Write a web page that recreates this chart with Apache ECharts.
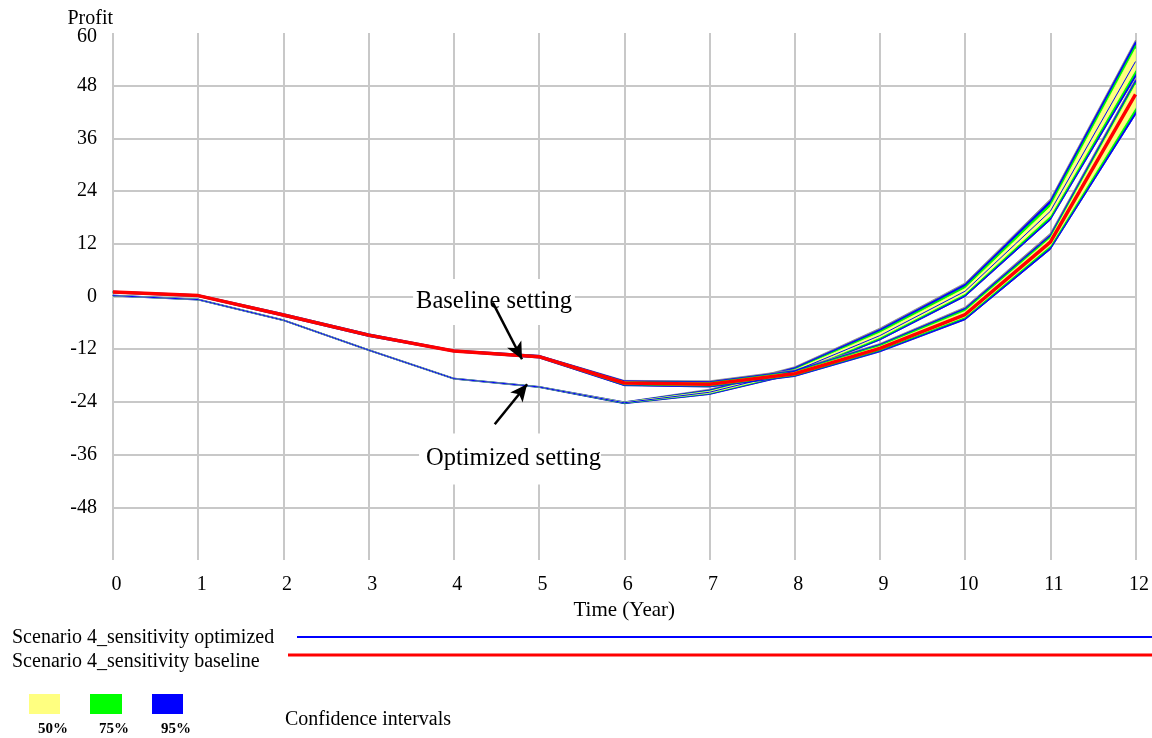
<!DOCTYPE html>
<html>
<head>
<meta charset="utf-8">
<script src="https://cdn.jsdelivr.net/npm/echarts@6/dist/echarts.min.js"></script>
<style>
  html, body { margin: 0; padding: 0; background: #fff; }
  #chart { width: 1152px; height: 738px; }
</style>
</head>
<body>
<div id="chart"></div>
<script>
// Time axis (years) and y-axis ticks
const years = [0, 1, 2, 3, 4, 5, 6, 7, 8, 9, 10, 11, 12];
const yTicks = [-60, -48, -36, -24, -12, 0, 12, 24, 36, 48, 60];

// Scenario 4 sensitivity, optimized setting: mean line and confidence bounds
const optLine  = [0.2, -0.7, -5.4, -12.2, -18.7, -20.6, -24.2, -21.8, -17.0, -8.9, 1.2, 19.4, 53.5];
const opt100Hi = [0.3, -0.6, -5.3, -12.1, -18.6, -20.5, -24.0, -21.1, -16.0, -7.2, 3.1, 22.2, 58.4];
const opt95Hi  = [0.3, -0.6, -5.3, -12.1, -18.6, -20.5, -24.0, -21.3, -16.2, -7.5, 2.8, 21.8, 58.0];
const opt75Hi  = [0.25, -0.65, -5.35, -12.15, -18.65, -20.55, -24.1, -21.5, -16.5, -7.9, 2.3, 21.1, 57.2];
const opt50Hi  = [0.2, -0.7, -5.4, -12.2, -18.7, -20.6, -24.1, -21.6, -16.7, -8.3, 1.8, 20.4, 56.4];
const opt50Lo  = [0.2, -0.7, -5.4, -12.2, -18.7, -20.6, -24.2, -22.0, -17.3, -9.3, 0.7, 18.4, 51.6];
const opt75Lo  = [0.15, -0.75, -5.45, -12.25, -18.75, -20.65, -24.3, -22.1, -17.5, -9.6, 0.4, 17.9, 50.8];
const opt95Lo  = [0.1, -0.8, -5.5, -12.3, -18.8, -20.7, -24.4, -22.3, -17.7, -9.9, 0.0, 17.4, 50.0];

// Scenario 4 sensitivity, baseline setting: mean line and confidence bounds
const baseLine  = [1.0, 0.2, -4.2, -8.8, -12.4, -13.7, -19.7, -20.0, -17.6, -11.8, -4.1, 12.4, 46.0];
const base100Hi = [1.2, 0.4, -3.9, -8.5, -12.2, -13.4, -19.1, -19.2, -16.7, -10.7, -2.4, 14.4, 49.6];
const base95Hi  = [1.2, 0.4, -3.9, -8.5, -12.2, -13.4, -19.2, -19.4, -16.9, -10.9, -2.7, 14.0, 49.2];
const base75Hi  = [1.15, 0.35, -4.0, -8.6, -12.3, -13.5, -19.4, -19.6, -17.1, -11.1, -3.0, 13.6, 48.7];
const base50Hi  = [1.1, 0.3, -4.1, -8.7, -12.35, -13.6, -19.5, -19.8, -17.3, -11.4, -3.4, 13.2, 48.2];
const base50Lo  = [0.9, 0.1, -4.3, -8.9, -12.45, -13.8, -19.9, -20.2, -17.8, -12.0, -4.6, 11.6, 43.0];
const base75Lo  = [0.85, 0.05, -4.4, -9.0, -12.5, -13.9, -20.1, -20.4, -18.0, -12.3, -4.9, 11.2, 42.2];
const base95Lo  = [0.8, 0.0, -4.5, -9.1, -12.6, -14.0, -20.3, -20.6, -18.2, -12.6, -5.3, 10.7, 41.4];

// Legend entries
const scenarioNames = ['Scenario 4_sensitivity optimized', 'Scenario 4_sensitivity baseline'];
const ciLabels = ['50%', '75%', '95%'];

const FONT = '"Liberation Serif", "Times New Roman", serif';
const C_GRAY = '#8a8a8a', C_BLUE = '#0000ff', C_GREEN = '#00ff00', C_YELLOW = '#ffff80', C_RED = '#ff0000';
const Y_MAX = yTicks[yTicks.length - 1];

// A filled band between two bound arrays, projected through the grid's axes
function band(lo, hi, color) {
  return {
    type: 'custom',
    silent: true,
    data: [[0, 0]],
    renderItem: function (params, api) {
      const pts = [];
      for (let i = 0; i < years.length; i++) pts.push(api.coord([years[i], hi[i]]));
      for (let i = years.length - 1; i >= 0; i--) pts.push(api.coord([years[i], lo[i]]));
      return {
        type: 'polygon',
        shape: { points: pts },
        style: { fill: color, stroke: color, lineWidth: 0.8 }
      };
    }
  };
}

function meanLine(values, color, width) {
  return {
    type: 'line',
    data: years.map((t, i) => [t, values[i]]),
    showSymbol: false,
    silent: true,
    lineStyle: { color: color, width: width },
    animation: false
  };
}

const chart = echarts.init(document.getElementById('chart'), null, { renderer: 'canvas' });

const baseSeries = meanLine(baseLine, C_RED, 3.5);
// Arrows pointing from the annotation labels to the two scenario lines
baseSeries.markLine = {
  silent: true,
  symbol: ['none', 'arrow'],
  symbolSize: [12, 17],
  label: { show: false },
  lineStyle: { color: '#000', width: 2.5, type: 'solid' },
  data: [
    [{ coord: [4.457, -1.4] }, { coord: [4.80, -14.3] }],
    [{ coord: [4.48, -29.1] }, { coord: [4.86, -20.0] }]
  ]
};

const option = {
  animation: false,
  backgroundColor: '#fff',
  textStyle: { fontFamily: FONT },
  grid: { left: 113, right: 16, top: 33, bottom: 178, containLabel: false },
  xAxis: {
    type: 'value',
    min: 0, max: 12, interval: 1,
    name: 'Time (Year)',
    nameLocation: 'middle',
    nameGap: 35,
    nameTextStyle: { fontFamily: FONT, fontSize: 21, color: '#000' },
    axisLine: { show: false },
    axisTick: { show: false },
    axisLabel: { fontFamily: FONT, fontSize: 20, color: '#000', margin: 15, padding: [0, 0, 0, 7] },
    splitLine: { show: true, lineStyle: { color: '#c8c8c8', width: 2 } }
  },
  yAxis: {
    type: 'value',
    min: yTicks[0], max: Y_MAX, interval: 12,
    axisLine: { show: false },
    axisTick: { show: false },
    axisLabel: {
      fontFamily: FONT, fontSize: 20, color: '#000', margin: 16, showMinLabel: false,
      // the top label sits just inside the plot's upper edge
      formatter: v => (v === Y_MAX ? '{top|' + v + '}' : String(v)),
      rich: { top: { fontFamily: FONT, fontSize: 20, color: '#000', padding: [8, 0, 0, 0] } }
    },
    splitLine: { show: true, showMinLine: false, showMaxLine: false, lineStyle: { color: '#c8c8c8', width: 2 } }
  },
  graphic: [
    // Y-axis title above the value labels
    { type: 'text', style: { text: 'Profit', x: 113, y: 19, align: 'right', verticalAlign: 'middle', font: '20px ' + FONT, fill: '#000' } },
    // Annotation labels on white boxes
    { type: 'text', z: 1, style: { text: 'Baseline setting', x: 494, y: 302, align: 'center', verticalAlign: 'middle',
        font: '24.5px ' + FONT, fill: '#000', backgroundColor: '#fff', padding: [20, 3, 1, 3] } },
    { type: 'text', z: 1, style: { text: 'Optimized setting', x: 510, y: 459, align: 'center', verticalAlign: 'middle',
        font: '24.5px ' + FONT, fill: '#000', backgroundColor: '#fff', padding: [22, 0, 4, 7] } },
    // Scenario legend
    { type: 'text', style: { text: scenarioNames[0], x: 12, y: 638, verticalAlign: 'middle', font: '20px ' + FONT, fill: '#000' } },
    { type: 'text', style: { text: scenarioNames[1], x: 12, y: 662, verticalAlign: 'middle', font: '20px ' + FONT, fill: '#000' } },
    { type: 'line', shape: { x1: 297, y1: 637, x2: 1152, y2: 637 }, style: { stroke: C_BLUE, lineWidth: 2 } },
    { type: 'line', shape: { x1: 288, y1: 655, x2: 1152, y2: 655 }, style: { stroke: C_RED, lineWidth: 3 } },
    // Confidence interval legend
    { type: 'rect', shape: { x: 29, y: 694, width: 31, height: 20 }, style: { fill: C_YELLOW } },
    { type: 'rect', shape: { x: 90, y: 694, width: 32, height: 20 }, style: { fill: C_GREEN } },
    { type: 'rect', shape: { x: 152, y: 694, width: 31, height: 20 }, style: { fill: C_BLUE } },
    { type: 'text', style: { text: ciLabels[0], x: 53, y: 729, align: 'center', verticalAlign: 'middle', font: 'bold 15px ' + FONT, fill: '#000' } },
    { type: 'text', style: { text: ciLabels[1], x: 114, y: 729, align: 'center', verticalAlign: 'middle', font: 'bold 15px ' + FONT, fill: '#000' } },
    { type: 'text', style: { text: ciLabels[2], x: 176, y: 729, align: 'center', verticalAlign: 'middle', font: 'bold 15px ' + FONT, fill: '#000' } },
    { type: 'text', style: { text: 'Confidence intervals', x: 285, y: 720, verticalAlign: 'middle', font: '20px ' + FONT, fill: '#000' } }
  ],
  series: [
    band(opt95Lo, opt100Hi, C_GRAY),
    band(opt95Lo, opt95Hi, C_BLUE),
    band(opt75Lo, opt75Hi, C_GREEN),
    band(opt50Lo, opt50Hi, C_YELLOW),
    meanLine(optLine, C_BLUE, 1),
    band(base95Lo, base100Hi, C_GRAY),
    band(base95Lo, base95Hi, C_BLUE),
    band(base75Lo, base75Hi, C_GREEN),
    band(base50Lo, base50Hi, C_YELLOW),
    baseSeries
  ]
};

chart.setOption(option);
</script>
</body>
</html>
